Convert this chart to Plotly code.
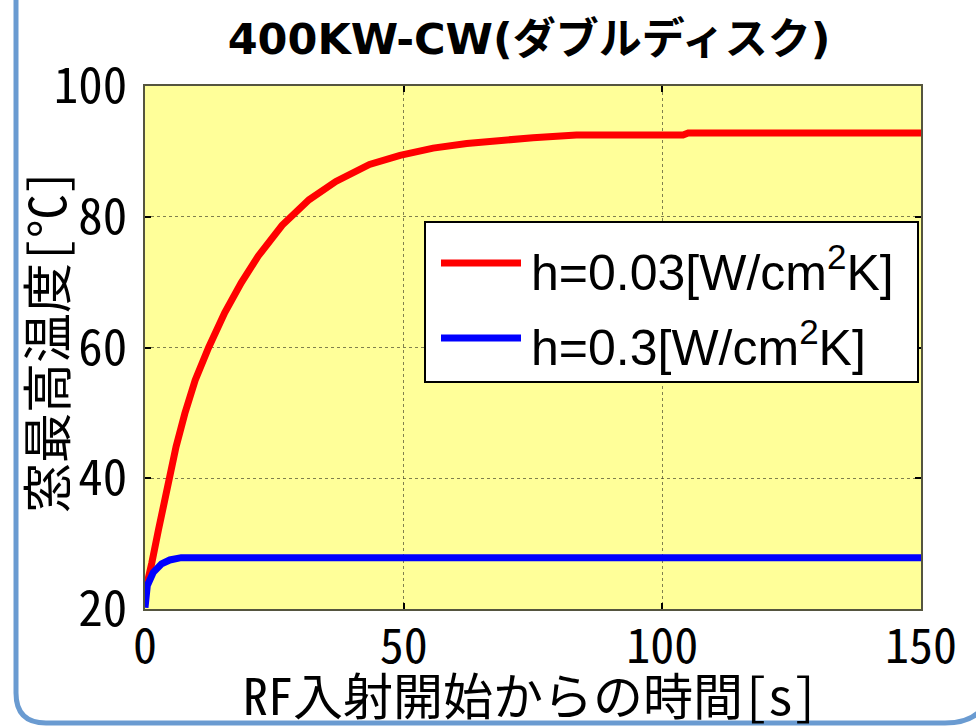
import plotly.graph_objects as go

# Time since RF injection [s] and peak window temperature [°C]
t_h003 = [0, 0.3, 1.3, 2.6, 3.9, 4.7, 6.0, 7.7, 9.7, 12.3, 15.4, 18.6, 21.9, 26.5,
          31.7, 36.9, 43.4, 49.3, 55.7, 62.2, 68.6, 75.0, 83.4, 104.0, 105.0, 150.0]
T_h003 = [22.5, 23.4, 27.0, 32.1, 37.2, 40.0, 44.8, 49.9, 55.0, 60.0, 65.3, 69.9, 74.0, 78.7,
          82.6, 85.4, 88.0, 89.4, 90.5, 91.2, 91.7, 92.1, 92.5, 92.5, 92.8, 92.8]

t_h03 = [0, 0.45, 1.6, 3.2, 4.8, 5.5, 7.0, 150.0]
T_h03 = [20.2, 23.6, 25.6, 26.9, 27.5, 27.6, 27.85, 27.85]

series_names = ["h=0.03[W/cm<sup>2</sup>K]", "h=0.3[W/cm<sup>2</sup>K]"]
series_colors = ["#ff0000", "#0000ff"]

x_ticks = [0, 50, 100, 150]
y_ticks = [20, 40, 60, 80, 100]

title_text = "400KW-CW(ダブルディスク)"
x_title = "RF入射開始からの時間[s]"
y_title = "窓最高温度[°C]"

W, H = 976, 726
L, R, T, B = 145, 55, 86, 117
PW, PH = W - L - R, H - T - B


def px(x):
    return (x - L) / PW


def py(y):
    return (H - B - y) / PH


MONO = "Noto Sans Mono CJK JP, Noto Sans CJK JP, Liberation Sans Narrow, sans-serif"
PROP = "Liberation Sans, Arial, Noto Sans CJK JP, sans-serif"

fig = go.Figure()
for tx, ty, name, col in [(t_h003, T_h003, series_names[0], series_colors[0]),
                          (t_h03, T_h03, series_names[1], series_colors[1])]:
    fig.add_trace(go.Scatter(x=tx, y=ty, mode="lines", name=name,
                             line=dict(color=col, width=7), showlegend=False))

axis_common = dict(
    showline=True, linecolor="#55553f", linewidth=2, mirror="ticks",
    ticks="inside", ticklen=6, tickwidth=2, tickcolor="#000000",
    showgrid=True, gridcolor="rgba(60,60,40,0.65)", gridwidth=1, griddash="dot",
    zeroline=False,
)

fig.update_xaxes(range=[0, 150], tickvals=x_ticks, ticklabelstandoff=-6,
                 tickfont=dict(family=MONO, size=48, color="#000000"), **axis_common)
fig.update_yaxes(range=[20, 100], tickvals=y_ticks, ticklabelstandoff=6,
                 tickfont=dict(family=MONO, size=49, color="#000000"), **axis_common)

shapes = []
# legend frame
shapes.append(dict(type="rect", xref="paper", yref="paper",
                   x0=px(425), x1=px(918), y0=py(382), y1=py(222),
                   fillcolor="white", line=dict(color="black", width=2), layer="above"))
annotations = []
for i, (name, col) in enumerate(zip(series_names, series_colors)):
    yl = [263, 338][i]
    shapes.append(dict(type="line", xref="paper", yref="paper",
                       x0=px(441), x1=px(521), y0=py(yl), y1=py(yl),
                       line=dict(color=col, width=7), layer="above"))
    annotations.append(dict(text=name, xref="paper", yref="paper",
                            x=px(529), y=py(yl + 6), xanchor="left", yanchor="middle",
                            showarrow=False, font=dict(family=PROP, size=50, color="black")))

# outer rounded frame
frame = (f"M {px(16)},{py(-20)} L {px(16)},{py(693)} "
         f"Q {px(16)},{py(723)} {px(46)},{py(723)} "
         f"L {px(945)},{py(723)} Q {px(990)},{py(723)} {px(990)},{py(680)}")
shapes.append(dict(type="path", xref="paper", yref="paper", path=frame,
                   line=dict(color="#6a9bd1", width=5), layer="above"))

annotations.append(dict(text=x_title, xref="paper", yref="paper",
                        x=px(530), y=py(693), xanchor="center", yanchor="middle",
                        showarrow=False, font=dict(family=MONO, size=50, color="black")))
annotations.append(dict(text=y_title, xref="paper", yref="paper",
                        x=px(44), y=py(341), xanchor="center", yanchor="middle",
                        textangle=-90, showarrow=False,
                        font=dict(family=MONO, size=50, color="black")))

fig.update_layout(
    width=W, height=H, autosize=False,
    margin=dict(l=L, r=R, t=T, b=B),
    paper_bgcolor="white", plot_bgcolor="#ffff99",
    title=dict(text=f"<b>{title_text}</b>", x=px(529), xref="paper", xanchor="center",
               y=1 - 39 / H, yanchor="middle",
               font=dict(family="DejaVu Sans, Noto Sans CJK JP, sans-serif", size=43, color="black")),
    shapes=shapes, annotations=annotations,
)

fig.write_html("out.html")
